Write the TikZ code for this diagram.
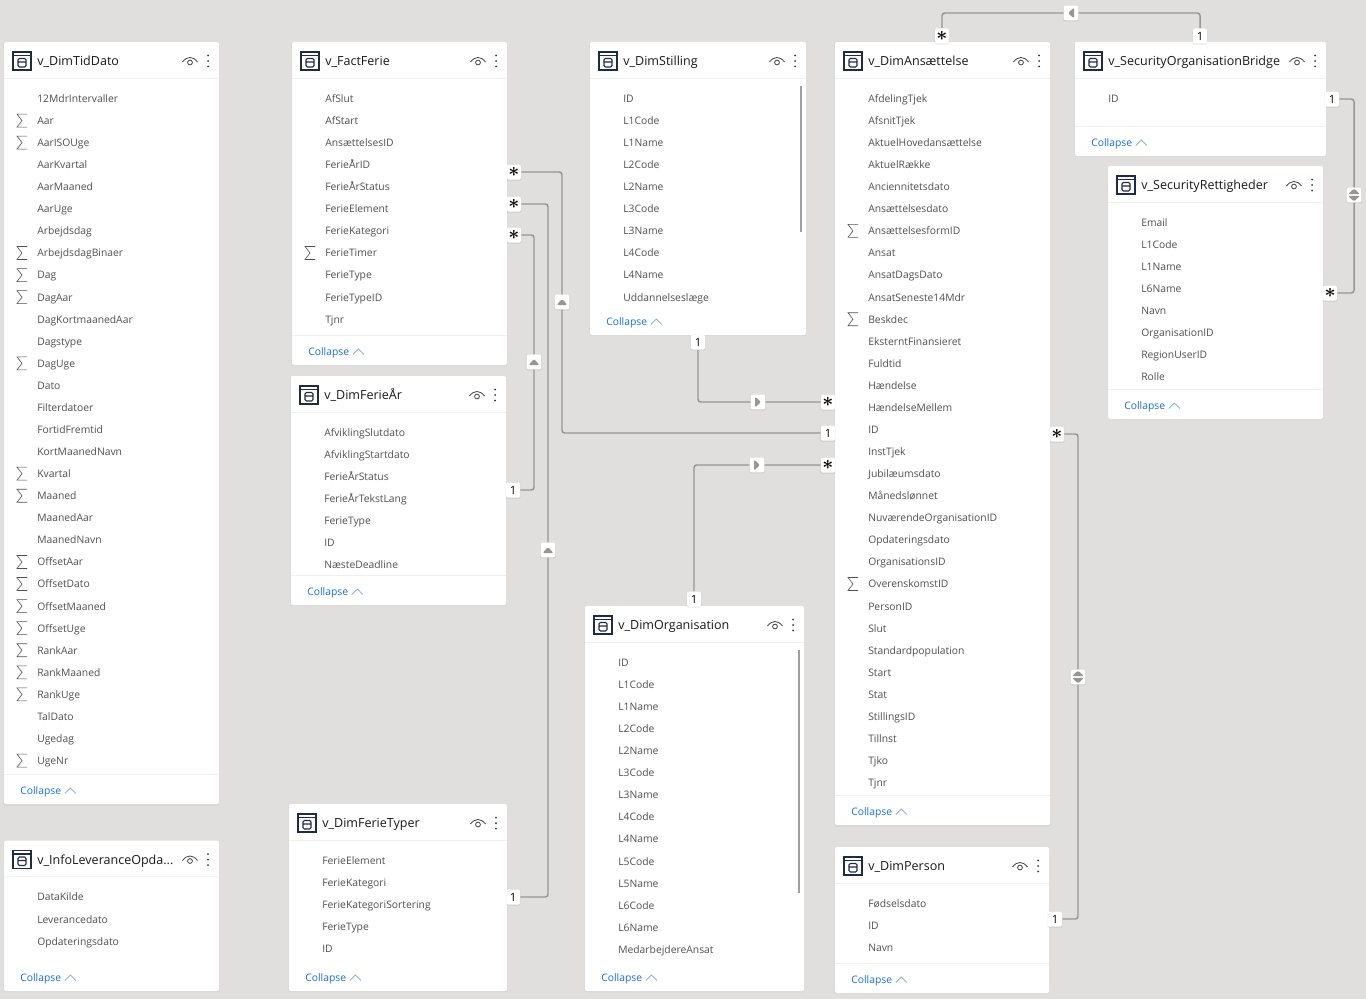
\documentclass[tikz,border=0pt]{standalone}
\usepackage{fontspec}
\setmainfont{Open Sans}
\usetikzlibrary{shadows}
\definecolor{canvas}{HTML}{E0DFDD}
\definecolor{fieldgray}{HTML}{505050}
\definecolor{linegray}{HTML}{969696}
\definecolor{rulegray}{HTML}{F0F0F0}
\definecolor{linkblue}{HTML}{1A6FC9}
\definecolor{chevblue}{HTML}{7FA6D8}
\definecolor{navy}{HTML}{1F2A44}

\tikzset{
  card/.style={fill=white,rounded corners=1.5pt,inner sep=0pt,
    general shadow={fill=black,opacity=.04,shadow xshift=0pt,shadow yshift=-.5pt,shadow scale=1.003}},
  cardtitle/.style={anchor=west,inner sep=0pt,text=black!90,font=\fontsize{9.4}{12}\selectfont,text height=1.6ex,text depth=.5ex},
  fieldname/.style={anchor=west,inner sep=0pt,text=fieldgray,font=\fontsize{7.75}{10}\selectfont,text height=1.6ex,text depth=.5ex},
  collapse/.style={anchor=west,inner sep=0pt,text=linkblue,font=\fontsize{7.75}{10}\selectfont,text height=1.6ex,text depth=.5ex},
  badge/.style={fill=white,rounded corners=1pt,inner sep=0pt,minimum width=10.5pt,minimum height=11.25pt,
    text=black,font=\fontsize{8.5}{10}\selectfont,
    general shadow={fill=black,opacity=.08,shadow xshift=0pt,shadow yshift=-.4pt,shadow scale=1.06}},
  starbadge/.style={badge,font=\fontsize{15.5}{15.5}\selectfont\boldmath},
  state/.style={fill=white,rounded corners=1.5pt,inner sep=0pt,minimum size=11pt,
    general shadow={fill=black,opacity=.08,shadow xshift=0pt,shadow yshift=-.4pt,shadow scale=1.06}},
  stateup/.style={state,path picture={
    \fill[linegray,shift={(path picture bounding box.center)}] (-5.5,3) -- (0,-3) -- (5.5,3) -- cycle;}},
  stateright/.style={state,path picture={
    \fill[linegray,shift={(path picture bounding box.center)}] (-3,-5.5) -- (3,0) -- (-3,5.5) -- cycle;}},
  stateleft/.style={state,path picture={
    \fill[linegray,shift={(path picture bounding box.center)}] (3,-5.5) -- (-3,0) -- (3,5.5) -- cycle;}},
  stateboth/.style={state,path picture={
    \fill[linegray,shift={(path picture bounding box.center)}] (-6,-.8) -- (0,-6.5) -- (6,-.8) -- cycle (-6,.8) -- (0,6.5) -- (6,.8) -- cycle;}},
  relation/.style={draw=linegray,line width=1.1pt,rounded corners=2pt},
  scrollbar/.style={draw=linegray!90,line width=2.2pt},
  cardrule/.style={draw=rulegray,line width=.6pt},
  pics/sigmamark/.style={code={
    \draw[fieldgray,line width=.45pt] (5,-6.5) -- (-5,-6.5) -- (0,0) -- (-5,6.5) -- (5,6.5);}},
  pics/tableicon/.style={code={
    \draw[navy,line width=.8pt] (-9,-9) rectangle (9,9) (-9,-5.5) -- (9,-5.5);
    \draw[navy,line width=.8pt,rounded corners=1pt] (-4,-2.5) rectangle (4,6) (-4,1) -- (4,1);}},
  pics/eyeicon/.style={code={
    \draw[black!75,line width=.6pt] (-7.5,1) .. controls (-3,-5) and (3,-5) .. (7.5,1);
    \draw[black!75,line width=.6pt] (0,1.5) circle (2.4);}},
  pics/moredots/.style={code={
    \foreach \d in {-5.5,0,5.5} \fill[black!80] (0,\d) circle (1);}},
  pics/chevron/.style={code={
    \draw[chevblue,line width=.55pt] (-5.5,3) -- (0,-2.5) -- (5.5,3);}},
}

% id, left, top, right, bottom, title, fields
\newcommand{\tablecard}[7]{
  \node[card,minimum width={(#4-#2)*.75pt},minimum height={(#5-#3)*.75pt}] (#1) at ({(#2+#4)/2},{(#3+#5)/2}) {};
  \draw[cardrule] (#2,#3+36) -- (#4,#3+36);
  \pic at (#2+18,#3+19) {tableicon};
  \node[cardtitle] (#1-title) at (#2+33,#3+19.8) {#6};
  \pic at (#4-29,#3+19) {eyeicon};
  \pic at (#4-11,#3+19) {moredots};
  \foreach \f [count=\i from 0] in {#7}
    \node[fieldname] (#1-f\i) at (#2+33,#3+56.5+22.07*\i) {\f};
  \node[collapse] (#1-collapse) at (#2+16,#5-13.5) {Collapse};
  \pic at ([xshift=6.8pt]#1-collapse.east) {chevron};
}
% left, right, bottom
\newcommand{\footrule}[3]{\draw[cardrule] (#1,#3-30) -- (#2,#3-30);}
% left, top, rows
\newcommand{\sigmarows}[3]{
  \foreach \i in {#3} \pic at (#1+18,#2+56.5+22.07*\i) {sigmamark};
}

\begin{document}
\begin{tikzpicture}[x=.75pt,y=-.75pt]
\useasboundingbox (0,0) rectangle (1366,999);
\fill[canvas] (0,0) rectangle (1366,999);

% Left column
\tablecard{tiddato}{4}{42}{219}{804}{v\_DimTidDato}{12MdrIntervaller,Aar,AarISOUge,AarKvartal,AarMaaned,AarUge,Arbejdsdag,ArbejdsdagBinaer,Dag,DagAar,DagKortmaanedAar,Dagstype,DagUge,Dato,Filterdatoer,FortidFremtid,KortMaanedNavn,Kvartal,Maaned,MaanedAar,MaanedNavn,OffsetAar,OffsetDato,OffsetMaaned,OffsetUge,RankAar,RankMaaned,RankUge,TalDato,Ugedag,UgeNr}
\footrule{4}{219}{804}
\sigmarows{4}{42}{1,2,7,8,9,12,17,18,21,22,23,24,25,26,27,30}
\tablecard{infolev}{4}{840.5}{219}{991}{v\_InfoLeveranceOpda...}{DataKilde,Leverancedato,Opdateringsdato}

% Fact and its dimensions
\tablecard{factferie}{292}{42}{507}{365}{v\_FactFerie}{AfSlut,AfStart,AnsættelsesID,FerieÅrID,FerieÅrStatus,FerieElement,FerieKategori,FerieTimer,FerieType,FerieTypeID,Tjnr}
\footrule{292}{507}{365}
\sigmarows{292}{42}{7}
\tablecard{ferieaar}{291}{376}{506}{605}{v\_DimFerieÅr}{AfviklingSlutdato,AfviklingStartdato,FerieÅrStatus,FerieÅrTekstLang,FerieType,ID,NæsteDeadline}
\footrule{291}{506}{605}
\tablecard{ferietyper}{289}{804}{507}{991}{v\_DimFerieTyper}{FerieElement,FerieKategori,FerieKategoriSortering,FerieType,ID}

% Middle column
\tablecard{stilling}{590}{42}{806}{335}{v\_DimStilling}{ID,L1Code,L1Name,L2Code,L2Name,L3Code,L3Name,L4Code,L4Name,Uddannelseslæge}
\draw[scrollbar] (801,86) -- (801,232);
\tablecard{organisation}{585}{606}{804}{991}{v\_DimOrganisation}{ID,L1Code,L1Name,L2Code,L2Name,L3Code,L3Name,L4Code,L4Name,L5Code,L5Name,L6Code,L6Name,MedarbejdereAnsat}
\draw[scrollbar] (799,650) -- (799,893);

% Right column
\tablecard{ansaettelse}{835}{42}{1050}{825}{v\_DimAnsættelse}{AfdelingTjek,AfsnitTjek,AktuelHovedansættelse,AktuelRække,Anciennitetsdato,Ansættelsesdato,AnsættelsesformID,Ansat,AnsatDagsDato,AnsatSeneste14Mdr,Beskdec,EksterntFinansieret,Fuldtid,Hændelse,HændelseMellem,ID,InstTjek,Jubilæumsdato,Månedslønnet,NuværendeOrganisationID,Opdateringsdato,OrganisationsID,OverenskomstID,PersonID,Slut,Standardpopulation,Start,Stat,StillingsID,Tillnst,Tjko,Tjnr}
\footrule{835}{1050}{825}
\sigmarows{835}{42}{6,10,22}
\tablecard{person}{835}{847}{1049}{993}{v\_DimPerson}{Fødselsdato,ID,Navn}
\footrule{835}{1049}{993}
\tablecard{bridge}{1075}{42}{1326}{156}{v\_SecurityOrganisationBridge}{ID}
\footrule{1075}{1326}{156}
\tablecard{rettigheder}{1108}{166}{1323}{419}{v\_SecurityRettigheder}{Email,L1Code,L1Name,L6Name,Navn,OrganisationID,RegionUserID,Rolle}
\footrule{1108}{1323}{419}

% Cardinality badges
\node[starbadge] (factStarA) at (514,172) {$\ast$};
\node[starbadge] (factStarB) at (514,204) {$\ast$};
\node[starbadge] (factStarC) at (514,235) {$\ast$};
\node[badge] (ferieaarOne) at (513,490) {1};
\node[badge] (ferietyperOne) at (513,897) {1};
\node[badge] (stillingOne) at (698,342) {1};
\node[badge] (organisationOne) at (694,599) {1};
\node[starbadge] (ansStarA) at (828,402) {$\ast$};
\node[badge] (ansOne) at (828,433) {1};
\node[starbadge] (ansStarB) at (828,465) {$\ast$};
\node[starbadge] (ansStarTop) at (942,36) {$\ast$};
\node[starbadge] (ansStarRight) at (1057,434) {$\ast$};
\node[badge] (bridgeOneTop) at (1200,36) {1};
\node[badge] (bridgeOneRight) at (1332,99) {1};
\node[starbadge] (rettighederStar) at (1330,293) {$\ast$};
\node[badge] (personOne) at (1055,919) {1};

% Filter direction buttons
\node[stateup] (stateFactAns) at (562,302) {};
\node[stateup] (stateFactTyper) at (548,550) {};
\node[stateup] (stateFactAar) at (534,362) {};
\node[stateright] (stateStilling) at (758,402) {};
\node[stateright] (stateOrganisation) at (757,465) {};
\node[stateleft] (stateBridge) at (1071,13) {};
\node[stateboth] (stateRettigheder) at (1354,195) {};
\node[stateboth] (statePerson) at (1078,677) {};

% Relationships
\draw[relation] (factStarA.east) -| (stateFactAns.north) (stateFactAns.south) |- (ansOne.west);
\draw[relation] (factStarB.east) -| (stateFactTyper.north) (stateFactTyper.south) |- (ferietyperOne.east);
\draw[relation] (factStarC.east) -| (stateFactAar.north) (stateFactAar.south) |- (ferieaarOne.east);
\draw[relation] (stillingOne.south) |- (stateStilling.west) (stateStilling.east) -- (ansStarA.west);
\draw[relation] (organisationOne.north) |- (stateOrganisation.west) (stateOrganisation.east) -- (ansStarB.west);
\draw[relation] (ansStarTop.north) |- (stateBridge.west) (stateBridge.east) -| (bridgeOneTop.north);
\draw[relation] (bridgeOneRight.east) -| (stateRettigheder.north) (stateRettigheder.south) |- (rettighederStar.east);
\draw[relation] (ansStarRight.east) -| (statePerson.north) (statePerson.south) |- (personOne.east);
\end{tikzpicture}
\end{document}
